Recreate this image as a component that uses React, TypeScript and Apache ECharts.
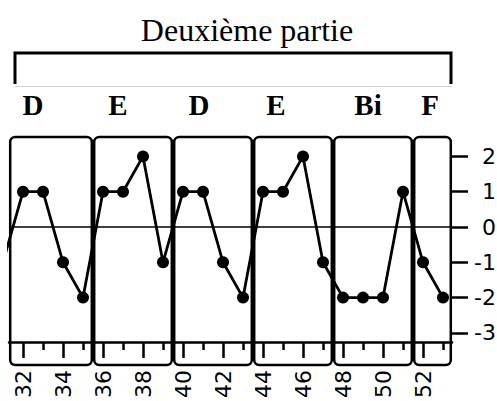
import React, { useEffect, useRef } from "react";
import * as echarts from "echarts";

const titleText = "Deuxième partie";
const xValues = [31, 32, 33, 34, 35, 36, 37, 38, 39, 40, 41, 42, 43, 44, 45, 46, 47, 48, 49, 50, 51, 52, 53];
const yValues = [-1, 1, 1, -1, -2, 1, 1, 2, -1, 1, 1, -1, -2, 1, 1, 2, -1, -2, -2, -2, 1, -1, -2];
const segmentLabels = ["D", "E", "D", "E", "Bi", "F"];
const segmentLabelX = [32.5, 36.75, 40.8, 44.65, 49.25, 52.35];
const segmentStart = [31.3, 35.5, 39.5, 43.5, 47.5, 51.5];
const segmentEnd = [35.5, 39.5, 43.5, 47.5, 51.5, 53.45];
const yTicks = [-3, -2, -1, 0, 1, 2];
const xMajorTicks = [32, 34, 36, 38, 40, 42, 44, 46, 48, 50, 52];
const xMinorTicks = [33, 35, 37, 39, 41, 43, 45, 47, 49, 51, 53];

const X_MIN = 31.3;
const X_MAX = 53.45;
const Y_MIN = -3.91;
const Y_MAX = 2.55;

export default function App() {
  const ref = useRef<HTMLDivElement>(null);
  useEffect(() => {
    if (!ref.current) return;
    const chart = echarts.init(ref.current, null, { renderer: "svg" });
    const sans = "DejaVu Sans";
    const serif = "Liberation Serif";
    const option: any = {
      animation: false,
      backgroundColor: "#fff",
      title: {
        text: titleText,
        left: 242,
        top: 9,
        textAlign: "center",
        textStyle: { fontFamily: serif, fontSize: 32, fontWeight: "normal", color: "#000" },
      },
      grid: [
        { left: 9, right: 45, top: 137, bottom: 36, containLabel: false, outerBoundsMode: "none" },
        { left: 9, right: 45, top: 137, bottom: 59, containLabel: false, outerBoundsMode: "none" },
        { left: 9, right: 45, top: 90, height: 30, containLabel: false, outerBoundsMode: "none" },
      ],
      xAxis: [
        { gridIndex: 0, type: "value", min: X_MIN, max: X_MAX, show: false },
        {
          gridIndex: 1,
          type: "value",
          min: X_MIN,
          max: X_MAX,
          position: "bottom",
          axisLine: { show: true, lineStyle: { color: "#000", width: 2.5 } },
          axisTick: { show: true, customValues: xMajorTicks, length: 16, lineStyle: { color: "#000", width: 2.5 } },
          axisLabel: {
            show: true,
            customValues: xMajorTicks,
            rotate: 90,
            margin: 28,
            fontSize: 22,
            fontFamily: sans,
            color: "#000",
          },
          splitLine: { show: false },
        },
        {
          gridIndex: 1,
          type: "value",
          min: X_MIN,
          max: X_MAX,
          position: "bottom",
          offset: 0,
          axisLine: { show: false },
          axisTick: { show: true, customValues: xMinorTicks, length: 8, lineStyle: { color: "#000", width: 2.5 } },
          axisLabel: { show: false },
          splitLine: { show: false },
        },
        { gridIndex: 2, type: "value", min: X_MIN, max: X_MAX, show: false },
      ],
      yAxis: [
        {
          gridIndex: 0,
          type: "value",
          min: Y_MIN,
          max: Y_MAX,
          position: "right",
          axisLine: { show: false },
          axisTick: { show: true, customValues: yTicks, length: 16, lineStyle: { color: "#000", width: 2.5 } },
          axisLabel: {
            show: true,
            customValues: yTicks,
            margin: 44,
            align: "right",
            fontSize: 22,
            fontFamily: sans,
            color: "#000",
          },
          splitLine: { show: false },
        },
        { gridIndex: 1, type: "value", min: 0, max: 1, show: false },
        { gridIndex: 2, type: "value", min: 0, max: 1, show: false },
      ],
      graphic: [
        {
          type: "polyline",
          shape: { points: [[15, 84], [15, 53], [451, 53], [451, 84]] },
          style: { fill: "none", stroke: "#000", lineWidth: 3 },
        },
        {
          type: "line",
          shape: { x1: 15, y1: 86.5, x2: 452, y2: 86.5 },
          style: { stroke: "#cfcfcf", lineWidth: 1 },
        },
      ],
      series: [
        {
          type: "custom",
          xAxisIndex: 0,
          yAxisIndex: 0,
          clip: false,
          data: segmentStart.map((s, i) => [s, segmentEnd[i]]),
          renderItem: (params: any, api: any) => {
            const s = api.value(0);
            const e = api.value(1);
            const p1 = api.coord([s, Y_MAX]);
            const p2 = api.coord([e, Y_MIN]);
            const inset = 1.2;
            return {
              type: "rect",
              shape: {
                x: p1[0] + inset,
                y: p1[1],
                width: p2[0] - p1[0] - 2 * inset,
                height: p2[1] - p1[1],
                r: 5,
              },
              style: { fill: "none", stroke: "#000", lineWidth: 2.5 },
            };
          },
        },
        {
          type: "line",
          xAxisIndex: 0,
          yAxisIndex: 0,
          clip: true,
          data: xValues.map((x, i) => [x, yValues[i]]),
          symbol: "circle",
          symbolSize: 12,
          showAllSymbol: true,
          lineStyle: { color: "#000", width: 2.8 },
          itemStyle: { color: "#000" },
          markLine: {
            silent: true,
            symbol: "none",
            label: { show: false },
            lineStyle: { color: "#000", width: 1.5, type: "solid" },
            data: [{ yAxis: 0 }],
          },
        },
        {
          type: "scatter",
          xAxisIndex: 3,
          yAxisIndex: 2,
          symbolSize: 0,
          silent: true,
          itemStyle: { opacity: 1, color: "#000" },
          data: segmentLabels.map((name, i) => ({ name, value: [segmentLabelX[i], 0.5] })),
          label: {
            show: true,
            position: "inside",
            formatter: (p: any) => p.name,
            fontFamily: serif,
            fontWeight: "bold",
            fontSize: 29,
            color: "#000",
            opacity: 1,
            textBorderWidth: 0,
          },
        },
      ],
    };
    chart.setOption(option);
    return () => chart.dispose();
  }, []);
  return (
    <div
      ref={ref}
      style={{ position: "fixed", left: 0, top: 0, width: 497, height: 401, background: "#fff" }}
    />
  );
}
